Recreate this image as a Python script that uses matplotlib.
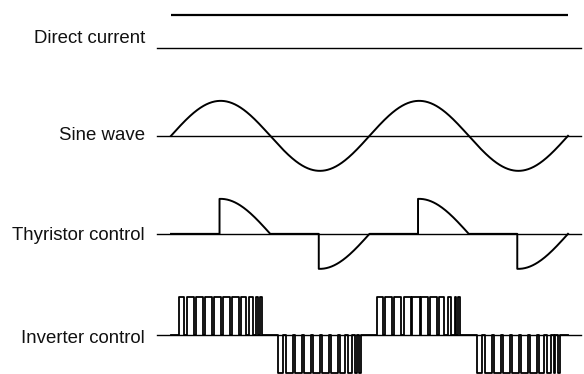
import numpy as np
import matplotlib.pyplot as plt

plt.rcParams['font.family'] = ['Liberation Sans', 'DejaVu Sans']

# row labels (top to bottom)
labels = ["Direct current", "Sine wave", "Thyristor control", "Inverter control"]

# waveform settings, in degrees of phase
cycles = 2
firing_angle = 88
dc_level = 0.95
inverter_level = 1.09

# PWM pulses of the inverter for one half cycle (on, off) in degrees
pulse_on = [14.5, 29, 45.3, 61.7, 77.9, 94.3, 110.6, 126.9, 141.5, 154.2, 161.4]
pulse_off = [23.6, 41.7, 58, 74.4, 90.7, 107, 123.3, 136, 148.7, 156.9, 165]

# vertical layout
row_offset = [0, -2.51, -5.31, -8.2]
label_y = [0.15, -2.63, -5.49, -8.42]

fig = plt.figure(figsize=(5.84, 3.74), dpi=100)
ax = fig.add_axes([0, 0, 1, 1])
ax.set_axis_off()
deg_per_px = 720 / 397
ax.set_xlim(-171 * deg_per_px, 720 + 16 * deg_per_px)
ax.set_ylim(-326 / 35, 48 / 35)

end = 360 * cycles
base_l, base_r = -14 * deg_per_px, end + 13 * deg_per_px

# baselines
for off in row_offset:
    ax.plot([base_l, base_r], [off, off], color="black", lw=1.0)

# direct current
ax.plot([0, end], [dc_level + row_offset[0]] * 2, color="black", lw=1.6, solid_capstyle="butt")

# sine wave
t = np.linspace(0, end, 1000)
ax.plot(t, np.sin(np.radians(t)) + row_offset[1], color="black", lw=1.4)

# thyristor control: phase-cut sine
tx, ty = [], []
for k in range(cycles):
    for half in (0, 1):
        a0 = 360 * k + 180 * half
        tx += [a0, a0 + firing_angle]
        ty += [0, 0]
        seg = np.linspace(a0 + firing_angle, a0 + 180, 60)
        tx += list(seg)
        ty += list(np.sin(np.radians(seg)))
ax.plot(tx, np.array(ty) + row_offset[2], color="black", lw=1.4)

# inverter control: PWM pulses
ix, iy = [0], [0]
for k in range(cycles):
    for half, sign in ((0, 1), (1, -1)):
        a0 = 360 * k + 180 * half
        for on, off in zip(pulse_on, pulse_off):
            ix += [a0 + on, a0 + on, a0 + off, a0 + off]
            iy += [0, sign * inverter_level, sign * inverter_level, 0]
ix.append(end)
iy.append(0)
ax.plot(ix, np.array(iy) + row_offset[3], color="black", lw=1.3)

# labels
for name, y in zip(labels, label_y):
    ax.text(-26 * deg_per_px, y, name, ha="right", va="baseline", fontsize=13.4, color="#111111")

fig.savefig("out.png", dpi=100)
